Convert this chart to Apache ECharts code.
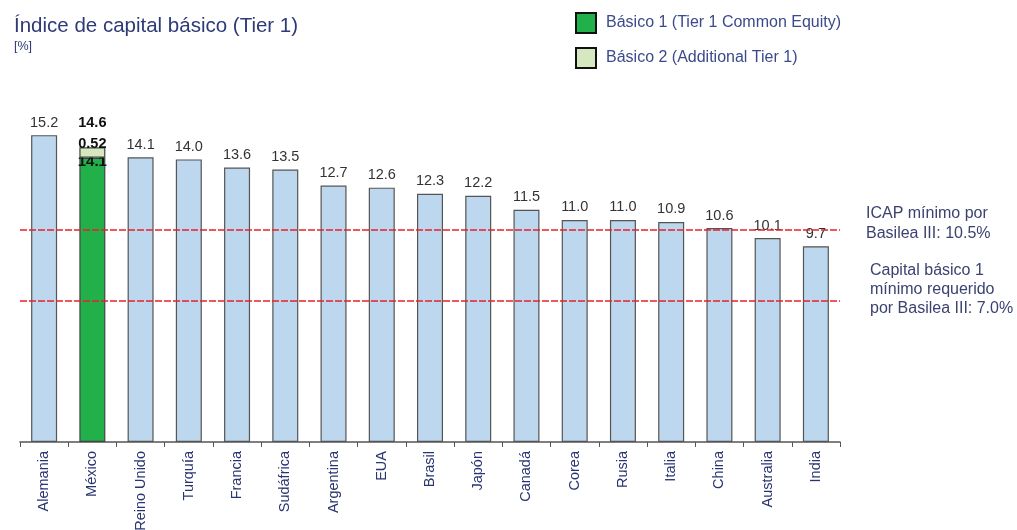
<!DOCTYPE html>
<html>
<head>
<meta charset="utf-8">
<script src="https://cdn.jsdelivr.net/npm/echarts@6/dist/echarts.min.js"></script>
<style>
  html, body { margin: 0; padding: 0; background: #fff; }
  #chart { width: 1017px; height: 530px; }
</style>
</head>
<body>
<div id="chart"></div>
<script>
// Countries ordered by Tier 1 capital ratio (%)
const countries = ['Alemania', 'México', 'Reino Unido', 'Turquía', 'Francia', 'Sudáfrica', 'Argentina',
  'EUA', 'Brasil', 'Japón', 'Canadá', 'Corea', 'Rusia', 'Italia', 'China', 'Australia', 'India'];
const tier1Ratio = [15.2, null, 14.1, 14.0, 13.6, 13.5, 12.7, 12.6, 12.3, 12.2, 11.5, 11.0, 11.0, 10.9, 10.6, 10.1, 9.7];
// México split into Common Equity and Additional Tier 1
const mexicoIndex = 1;
const mexicoCET1 = 14.08;
const mexicoAT1 = 0.52;
// Basel III minimums (%)
const icapMin = 10.5;
const cet1Min = 7.0;

const fontFam = '"Liberation Sans", Arial, sans-serif';
const navy = '#2E3A78';

const cet1Data = countries.map((c, i) => i === mexicoIndex ? mexicoCET1 : null);
const at1Data = countries.map((c, i) => i === mexicoIndex ? mexicoAT1 : null);
const mexicoTotal = mexicoCET1 + mexicoAT1;

const chart = echarts.init(document.getElementById('chart'), null, { renderer: 'canvas' });
chart.setOption({
  animation: false,
  textStyle: { fontFamily: fontFam },
  title: {
    text: 'Índice de capital básico (Tier 1)',
    subtext: '[%]',
    left: 9, top: 11,
    itemGap: 3,
    textStyle: { fontFamily: fontFam, fontSize: 20.5, fontWeight: 'normal', color: navy },
    subtextStyle: { fontFamily: fontFam, fontSize: 12.5, color: navy }
  },
  legend: {
    data: ['Básico 1 (Tier 1 Common Equity)', 'Básico 2 (Additional Tier 1)'],
    orient: 'vertical',
    left: 575, top: 12,
    padding: 0,
    itemWidth: 20, itemHeight: 20, itemGap: 13,
    icon: 'rect',
    itemStyle: { borderColor: '#111', borderWidth: 2 },
    textStyle: { fontFamily: fontFam, fontSize: 16, color: '#3A4A8C', padding: [0, 0, 0, 5] }
  },
  grid: { left: 20, right: 177, top: 119, bottom: 88, containLabel: false, outerBoundsMode: 'none' },
  xAxis: {
    type: 'category',
    data: countries,
    axisLine: { lineStyle: { color: '#555', width: 1.5 } },
    axisTick: { show: true, length: 5, lineStyle: { color: '#555' } },
    axisLabel: { rotate: 90, margin: 9, fontSize: 14.5, color: '#2A3470', fontFamily: fontFam, interval: 0 }
  },
  yAxis: {
    type: 'value', min: 0, max: 16, show: false,
    splitLine: { show: false }
  },
  series: [
    {
      name: 'Índice',
      type: 'bar',
      stack: 'total',
      barWidth: 26,
      data: tier1Ratio,
      itemStyle: { color: '#BDD7EE', borderColor: '#555', borderWidth: 1.2 },
      label: {
        show: true, position: 'top', distance: 5,
        fontSize: 14.5, color: '#333', fontFamily: fontFam,
        formatter: p => p.value == null ? '' : Number(p.value).toFixed(1)
      },
      markLine: {
        silent: true,
        symbol: 'none',
        label: { show: false },
        lineStyle: { color: '#E8202A', type: [7, 2], width: 1.6 },
        data: [{ yAxis: icapMin }, { yAxis: cet1Min }],
        z: 10
      },
      z: 2
    },
    {
      name: 'Básico 1 (Tier 1 Common Equity)',
      type: 'bar',
      stack: 'total',
      barWidth: 26,
      data: cet1Data,
      itemStyle: { color: '#22B04B', borderColor: '#444', borderWidth: 1.2 },
      label: {
        show: true, position: 'insideTop', distance: -3,
        fontSize: 15, fontWeight: 'bold', color: '#111', fontFamily: fontFam,
        formatter: p => p.value == null ? '' : Number(p.value).toFixed(1)
      },
      z: 2
    },
    {
      name: 'Básico 2 (Additional Tier 1)',
      type: 'bar',
      stack: 'total',
      barWidth: 26,
      data: at1Data,
      itemStyle: { color: '#D6E8C0', borderColor: '#444', borderWidth: 1.2 },
      label: {
        show: true, position: 'top', distance: -6,
        fontFamily: fontFam,
        formatter: p => p.value == null ? '' : '{t|' + mexicoTotal.toFixed(1) + '}\n{v|' + Number(p.value).toFixed(2) + '}',
        rich: {
          t: { fontSize: 14.5, fontWeight: 'bold', color: '#111', lineHeight: 25 },
          v: { fontSize: 14.5, fontWeight: 'bold', color: '#111', lineHeight: 18 }
        }
      },
      z: 3
    }
  ],
  graphic: [
    {
      type: 'text', left: 866, top: 204,
      style: { text: 'ICAP mínimo por\nBasilea III: 10.5%', font: '16px ' + fontFam, fill: '#3B4270', lineHeight: 20 }
    },
    {
      type: 'text', left: 870, top: 261,
      style: { text: 'Capital básico 1\nmínimo requerido\npor Basilea III: 7.0%', font: '16px ' + fontFam, fill: '#3B4270', lineHeight: 19 }
    }
  ]
});
</script>
</body>
</html>
